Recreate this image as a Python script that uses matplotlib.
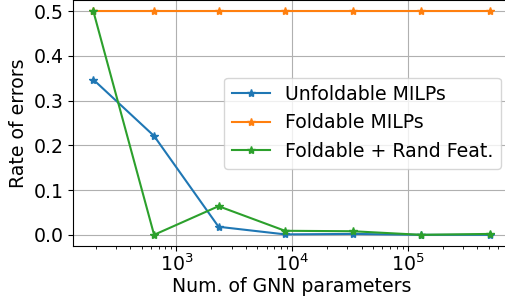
import matplotlib
matplotlib.use("Agg")
import matplotlib.pyplot as plt

# number of GNN parameters (log x axis)
n_params = [191, 640, 2310, 8670, 33400, 130000, 515000]

# rate of errors for each setting
unfoldable = [0.347, 0.221, 0.018, 0.001, 0.002, 0.0, 0.0]
foldable = [0.5, 0.5, 0.5, 0.5, 0.5, 0.5, 0.5]
foldable_rand = [0.5, 0.0, 0.064, 0.009, 0.008, 0.0, 0.002]

plt.rcParams['font.size'] = 13.6

fig = plt.figure(figsize=(5.06, 2.99), dpi=100)
ax = fig.add_axes([73.5 / 506, 1 - 246 / 299, (510 - 73.5) / 506, 246 / 299])

ax.plot(n_params, unfoldable, marker='*', label='Unfoldable MILPs')
ax.plot(n_params, foldable, marker='*', label='Foldable MILPs')
ax.plot(n_params, foldable_rand, marker='*', label='Foldable + Rand Feat.')

ax.set_xscale('log')
ax.set_xlabel('Num. of GNN parameters', labelpad=1)
ax.set_ylabel('Rate of errors')
ax.tick_params(axis='x', which='major', pad=2)
ax.grid(True)
ax.legend(loc='center right')

fig.savefig('out.png', dpi=100)
